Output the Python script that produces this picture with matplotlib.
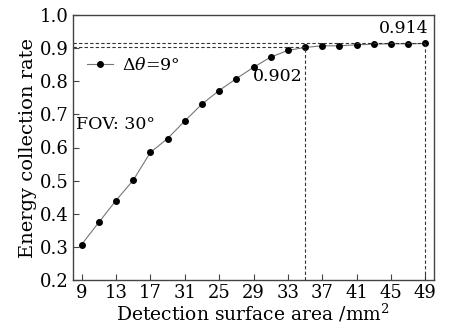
import matplotlib
matplotlib.use('Agg')
import numpy as np
import matplotlib.pyplot as plt

plt.rcParams['font.family'] = ['DejaVu Serif']
plt.rcParams['mathtext.fontset'] = 'dejavuserif'

area = [9, 11, 13, 15, 17, 19, 21, 23, 25, 27, 29, 31, 33, 35, 37, 39, 41, 43, 45, 47, 49]
rate = [0.307, 0.374, 0.440, 0.501, 0.585, 0.627, 0.680, 0.731, 0.772, 0.808, 0.842,
        0.873, 0.893, 0.902, 0.907, 0.907, 0.910, 0.912, 0.913, 0.913, 0.914]

xticks = [9, 13, 17, 21, 25, 29, 33, 37, 41, 45, 49]
xticklabels = ['9', '13', '17', '31', '25', '29', '33', '37', '41', '45', '49']
yticks = [0.2, 0.3, 0.4, 0.5, 0.6, 0.7, 0.8, 0.9, 1.0]

mark1 = (35, 0.902)
mark2 = (49, 0.914)

fs = 12.5

fig = plt.figure(figsize=(4.53, 3.30), dpi=100)
ax = fig.add_axes([73 / 453, 50 / 330, 361 / 453, 265 / 330])

ax.plot(area, rate, '-', color='#777777', lw=0.8, marker='o', ms=4,
        mfc='black', mec='black', label=r'$\Delta\theta$=9°')

# dashed guide lines
for x0, y0 in (mark1, mark2):
    ax.plot([8, x0], [y0, y0], '--', color='#333333', lw=0.8, dashes=(3, 2))
    ax.plot([x0, x0], [0.2, y0], '--', color='#333333', lw=0.8, dashes=(3, 2))

ax.text(34.7, 0.815, '0.902', ha='right', va='center', fontsize=fs)
ax.text(49.4, 0.958, '0.914', ha='right', va='center', fontsize=fs)
ax.text(8.4, 0.668, 'FOV: 30°', ha='left', va='center', fontsize=fs)

ax.legend(loc='center left', bbox_to_anchor=(0.02, 0.81), frameon=False,
          fontsize=fs, handlelength=1.5, handletextpad=0.5, borderaxespad=0)

ax.set_xlim(8, 50)
ax.set_ylim(0.2, 1.0)
ax.set_xticks(xticks)
ax.set_xticklabels(xticklabels)
ax.set_yticks(yticks)
ax.set_yticklabels(['%.1f' % v for v in yticks])
ax.tick_params(direction='in', labelsize=13, length=4, color='#444444', pad=3)
for s in ax.spines.values():
    s.set_color('#444444')
    s.set_linewidth(1.0)

ax.set_xlabel('Detection surface area /mm$^2$', fontsize=13.5, labelpad=0)
ax.set_ylabel('Energy collection rate', fontsize=14, labelpad=2)

fig.savefig('out.png', dpi=100)
